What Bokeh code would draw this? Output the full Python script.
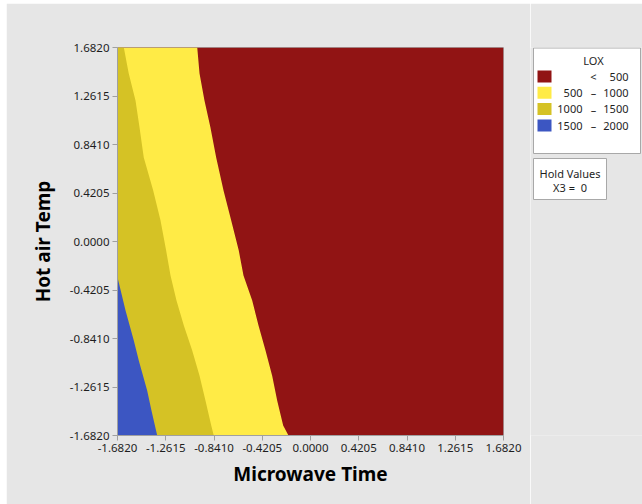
from bokeh.plotting import figure
from bokeh.models import Range1d, FixedTicker, PrintfTickFormatter, Spacer
from bokeh.layouts import row, column
from bokeh.embed import file_html
from bokeh.resources import INLINE
from bokeh.core.properties import value

# ---- data (coded units) ----
x_min, x_max = -1.682, 1.682
y_min, y_max = -1.682, 1.682
tick_vals = [-1.682, -1.2615, -0.841, -0.4205, 0.0, 0.4205, 0.841, 1.2615, 1.682]

# contour boundaries
y_bound = [1.682, 1.457, 1.222, 0.988, 0.728, 0.442, 0.182, -0.079, -0.295,
           -0.512, -0.729, -0.946, -1.163, -1.380, -1.596, -1.682]
x_500 = [-0.987, -0.967, -0.924, -0.872, -0.822, -0.758, -0.691, -0.625, -0.584,
         -0.508, -0.453, -0.392, -0.334, -0.290, -0.238, -0.192]
x_1000 = [-1.627, -1.584, -1.525, -1.490, -1.453, -1.371, -1.307, -1.258, -1.220,
          -1.168, -1.104, -1.031, -0.967, -0.915, -0.865, -0.843]
y_1500 = [-0.31, -0.599, -0.859, -1.033, -1.293, -1.466, -1.682]
x_1500 = [-1.682, -1.612, -1.540, -1.496, -1.423, -1.386, -1.336]

legend_lo = ["", "500", "1000", "1500"]
legend_mid = ["<", "\u2013", "\u2013", "\u2013"]
legend_hi = ["500", "1000", "1500", "2000"]
legend_colors = ["#911414", "#ffeb46", "#d5c225", "#3c56c2"]
hold_lines = ["Hold Values", "X3 =\u00a0 0"]

BG = "#e6e6e6"
FONT = "Noto Sans"
TXT = "#1e1e1e"
EDGE = "#a8a8a8"

# ---- main contour plot ----
p = figure(width=524, height=501, x_range=Range1d(x_min, x_max), y_range=Range1d(y_min, y_max),
           output_backend="svg", toolbar_location=None, title_location=None,
           min_border_left=111, min_border_right=27, min_border_top=44, min_border_bottom=69,
           background_fill_color=BG, border_fill_color=BG,
           x_axis_label="Microwave Time", y_axis_label="Hot air Temp")
p.grid.visible = False
p.outline_line_color = EDGE

p.quad(left=x_min, right=x_max, bottom=y_min, top=y_max, fill_color=legend_colors[0], line_color=None)
p.harea(y=y_bound, x1=x_min, x2=x_500, fill_color=legend_colors[1])
p.harea(y=y_bound, x1=x_min, x2=x_1000, fill_color=legend_colors[2])
p.harea(y=y_1500, x1=x_min, x2=x_1500, fill_color=legend_colors[3])

for ax in (p.xaxis[0], p.yaxis[0]):
    ax.ticker = FixedTicker(ticks=tick_vals)
    ax.formatter = PrintfTickFormatter(format="%.4f")
    ax.axis_line_color = "#a0a0a0"
    ax.major_tick_line_color = "#a0a0a0"
    ax.major_tick_out = 5
    ax.major_tick_in = 0
    ax.minor_tick_line_color = None
    ax.major_label_text_font = FONT
    ax.major_label_text_font_size = "11.5px"
    ax.major_label_text_color = TXT
    ax.major_label_standoff = 3
    ax.axis_label_text_font = FONT
    ax.axis_label_text_font_style = "bold"
    ax.axis_label_text_font_size = "19px"
    ax.axis_label_text_color = "#000000"
p.xaxis[0].axis_label_standoff = 6
p.yaxis[0].axis_label_standoff = 11

# ---- legend panel: its frame is aligned with the plot frame (page y 47..435) ----
# coordinates below are page pixels (y grows downwards)
q = figure(width=112, height=501, x_range=Range1d(530, 642), y_range=Range1d(435, 47),
           output_backend="svg", toolbar_location=None, title_location=None,
           x_axis_location=None, y_axis_location=None,
           min_border_left=0, min_border_right=0, min_border_top=44, min_border_bottom=69,
           background_fill_color=BG, border_fill_color=BG)
q.grid.visible = False
q.outline_line_color = None

q.quad(left=533, right=640, top=47.5, bottom=153, fill_color="white", line_color=EDGE, line_width=1)
q.text(x=[593], y=[59.5], text=["LOX"], text_align="center", text_baseline="middle",
       text_font=value(FONT), text_font_size=value("11px"), text_color=TXT)
row_y = [76, 92.3, 108.6, 125]
q.rect(x=[544] * 4, y=row_y, width=14, height=12, fill_color=legend_colors, line_color=None)
q.text(x=[582] * 4, y=row_y, text=legend_lo, text_align="right", text_baseline="middle",
       text_font=value(FONT), text_font_size=value("11px"), text_color=TXT)
q.text(x=[593] * 4, y=row_y, text=legend_mid, text_align="center", text_baseline="middle",
       text_font=value(FONT), text_font_size=value("11px"), text_color=TXT)
q.text(x=[628] * 4, y=row_y, text=legend_hi, text_align="right", text_baseline="middle",
       text_font=value(FONT), text_font_size=value("11px"), text_color=TXT)

q.quad(left=533, right=606, top=158, bottom=199, fill_color="white", line_color=EDGE, line_width=1)
q.text(x=[569.5, 569.5], y=[173, 187], text=hold_lines, text_align="center", text_baseline="middle",
       text_font=value(FONT), text_font_size=value("11px"), text_color=TXT)

layout = column(Spacer(width=642, height=3),
                row(Spacer(width=6, height=501), p, q, spacing=0),
                spacing=0)
open("out.html", "w").write(file_html(layout, INLINE))
